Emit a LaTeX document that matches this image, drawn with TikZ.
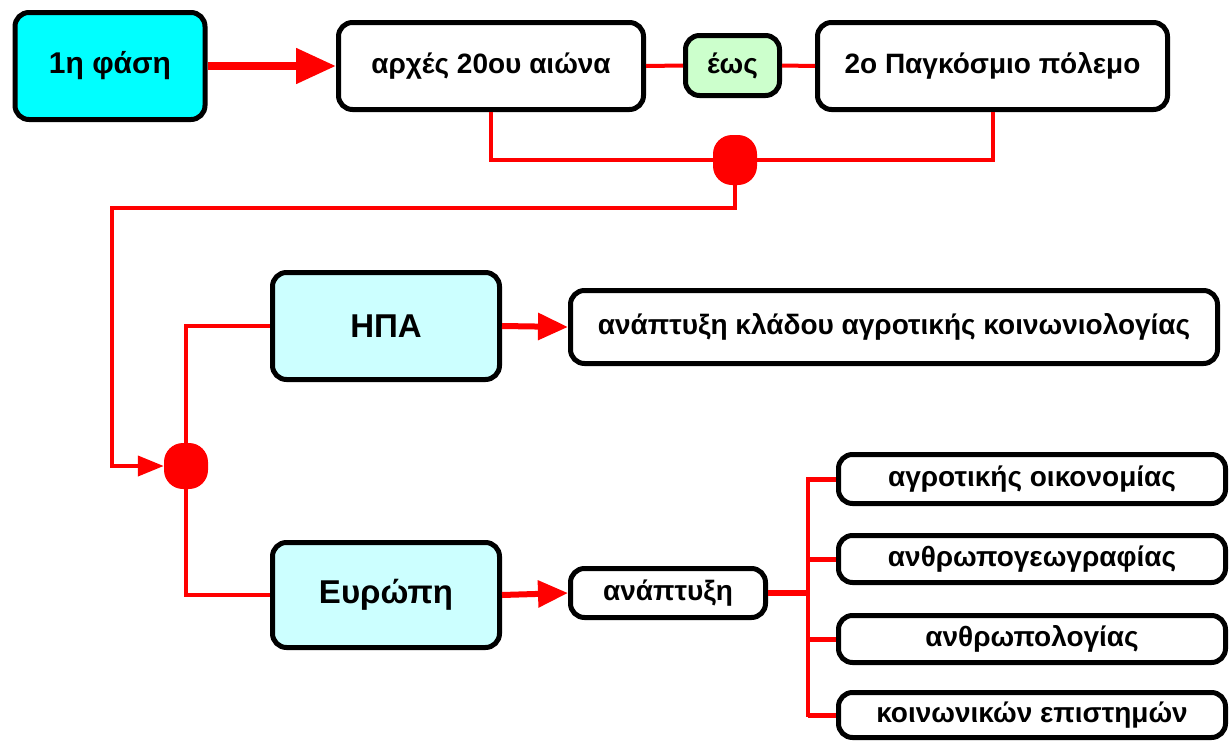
\documentclass[tikz,border=0pt]{standalone}
\usepackage{fontspec}
\setmainfont{Liberation Sans}
\usetikzlibrary{arrows.meta}
\definecolor{cyanA}{HTML}{00FFFF}
\definecolor{cyanL}{HTML}{CCFFFF}
\definecolor{greenL}{HTML}{CCFFCC}
\definecolor{redA}{HTML}{FF0000}
\begin{document}
\begin{tikzpicture}[x=1pt,y=-1pt,
  box/.style={draw=black, line width=5pt, rounded corners=14pt, fill=white,
    font=\bfseries\fontsize{28}{32}\selectfont, inner sep=0pt, align=center},
  bigbox/.style={box, font=\bfseries\fontsize{33}{38}\selectfont},
  link/.style={draw=redA, line width=4pt},
  dotnode/.style={fill=redA, draw=none, rounded corners=19pt, inner sep=0pt},
  bigarrow/.style={link, line width=8pt, -{Triangle[length=40pt,width=34pt]}},
  midarrow/.style={link, line width=6pt, -{Triangle[length=30pt,width=26pt]}},
  smallarrow/.style={link, -{Triangle[length=26pt,width=20pt]}}
]
\useasboundingbox[fill=white] (0,0) rectangle (1232,742);

% nodes
\node[bigbox, fill=cyanA, minimum width=190pt, minimum height=107pt, font=\bfseries\fontsize{30}{34}\selectfont] (p1) at (110,66) {1η φάση};
\node[box, minimum width=305pt, minimum height=87pt] (a20) at (491,66) {αρχές 20ου αιώνα};
\node[box, fill=greenL, minimum width=94pt, minimum height=60pt] (eos) at (732.5,65.5) {έως};
\node[box, minimum width=350pt, minimum height=87pt] (ww2) at (992.5,66) {2ο Παγκόσμιο πόλεμο};
\node[dotnode, minimum width=44pt, minimum height=50pt] (d1) at (735,160) {};
\node[dotnode, minimum width=44pt, minimum height=46pt] (d2) at (186,466) {};
\node[bigbox, fill=cyanL, minimum width=227pt, minimum height=107pt] (usa) at (386,326) {ΗΠΑ};
\node[box, minimum width=647pt, minimum height=73pt] (dev1) at (894,327) {ανάπτυξη κλάδου αγροτικής κοινωνιολογίας};
\node[bigbox, fill=cyanL, minimum width=227pt, minimum height=105pt] (eur) at (386,595) {Ευρώπη};
\node[box, minimum width=195pt, minimum height=49pt] (dev2) at (668,593) {ανάπτυξη};
\node[box, minimum width=387pt, minimum height=49pt] (r1) at (1032,479) {αγροτικής οικονομίας};
\node[box, minimum width=387pt, minimum height=47pt] (r2) at (1032,559) {ανθρωπογεωγραφίας};
\node[box, minimum width=387pt, minimum height=47pt] (r3) at (1032,639) {ανθρωπολογίας};
\node[box, minimum width=387pt, minimum height=45pt] (r4) at (1032,715) {κοινωνικών επιστημών};

\coordinate (k1) at (112,208);
\coordinate (t) at (808,593);

% connectors
\draw[bigarrow] (p1.east) -- (a20.west);
\draw[link] (a20.east) -- (eos.west);
\draw[link] (eos.east) -- (ww2.west);
\draw[link] (a20.south) |- (d1.west);
\draw[link] (ww2.south) |- (d1.east);
\draw[smallarrow] (d1.south) |- (k1) |- (d2.west);
\draw[link] (d2.north) |- (usa.west);
\draw[link] (d2.south) |- (eur.west);
\draw[midarrow] (usa.east) -- (dev1.west);
\draw[midarrow] (eur.east) -- (dev2.west);
\draw[link, line width=6pt] (dev2.east) -- (t);
\draw[link] (r1.west) -| (t) |- (r4.west);
\draw[link, line width=5pt] (r1.west) -- (r1.west -| t);
\draw[link, line width=5pt] (r2.west) -- (r2.west -| t);
\draw[link, line width=5pt] (r3.west) -- (r3.west -| t);
\draw[link, line width=5pt] (r4.west) -- (r4.west -| t);
\end{tikzpicture}
\end{document}
